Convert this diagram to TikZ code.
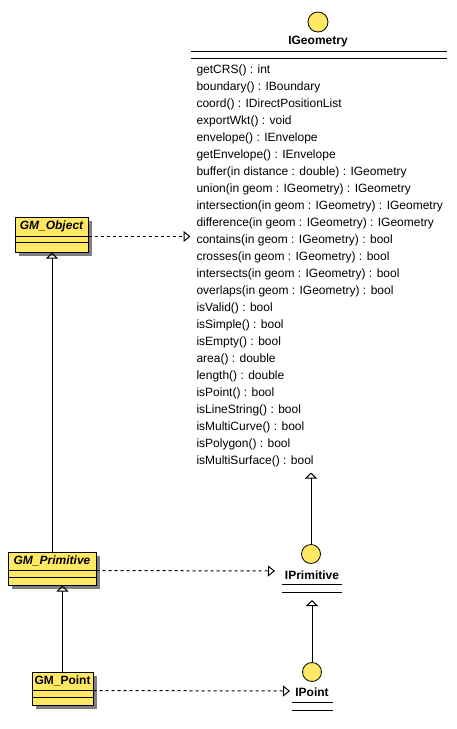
\documentclass[tikz,border=0pt]{standalone}
\usepackage{fontspec}
\setmainfont{Liberation Sans}
\usetikzlibrary{arrows.meta}
\definecolor{umlyellow}{RGB}{255,232,100}
\definecolor{umlshadow}{RGB}{128,128,128}

\begin{document}
\begin{tikzpicture}[x=1pt, y=-1pt, line width=1pt,
  every node/.style={font=\fontsize{12}{14}\selectfont, inner sep=0pt},
  umlclass/.style={draw=black, fill=umlyellow, rectangle},
  umlshadowbox/.style={draw=none, fill=umlshadow, rectangle},
  iface/.style={draw=black, fill=umlyellow, circle, line width=0.8pt},
  classname/.style={font=\fontsize{12}{14}\selectfont\bfseries},
  gen/.style={-{Triangle[open, length=6pt, width=12pt]}},
  real/.style={dash pattern=on 3pt off 3pt, -{Triangle[open, length=7pt, width=11pt]}}]
  \useasboundingbox (0,0) rectangle (457,729);

  \node[iface, minimum size=20pt] (geomcirc) at (318,22) {};
  \node[classname] (geomname) at (318,42) {IGeometry};
  \node[draw=none, minimum width=255pt, minimum height=420pt] (geom) at (318.5,262) {};
  \draw ([yshift=0pt]geom.north west) -- ([yshift=0pt]geom.north east);
  \draw ([yshift=-7pt]geom.north west) -- ([yshift=-7pt]geom.north east);
  \foreach \op [count=\i] in {getCRS() : int, boundary() : IBoundary,
      coord() : IDirectPositionList, exportWkt() : void, envelope() : IEnvelope,
      getEnvelope() : IEnvelope, buffer(in distance : double) : IGeometry,
      union(in geom : IGeometry) : IGeometry, intersection(in geom : IGeometry) : IGeometry,
      difference(in geom : IGeometry) : IGeometry, contains(in geom : IGeometry) : bool,
      crosses(in geom : IGeometry) : bool, intersects(in geom : IGeometry) : bool,
      overlaps(in geom : IGeometry) : bool, isValid() : bool, isSimple() : bool,
      isEmpty() : bool, area() : double, length() : double, isPoint() : bool,
      isLineString() : bool, isMultiCurve() : bool, isPolygon() : bool,
      isMultiSurface() : bool}
    \node[anchor=base west] (geomop-\i) at (196,{56+17*\i}) {\op};

  \node[iface, minimum size=19pt] (iprimcirc) at (311,554) {};
  \node[classname] (iprimname) at (312,575) {IPrimitive};
  \draw (282,584) -- (342,584) (282,592) -- (342,592);
  \coordinate (iprimtip) at (275,571);
  \coordinate (iprimbase) at (312,600);

  \node[iface, minimum size=19pt] (ipointcirc) at (312,672) {};
  \node[classname] (ipointname) at (312,692) {IPoint};
  \draw (292,702) -- (333,702) (292,710) -- (333,710);
  \coordinate (ipointtip) at (290,691);

  \node[umlshadowbox, minimum width=73pt, minimum height=35pt] (objshadow) at (55.5,238.5) {};
  \node[umlclass, minimum width=73pt, minimum height=35pt] (obj) at (51.5,234.5) {};
  \node[classname, font=\fontsize{12}{14}\selectfont\bfseries\itshape] (objname) at ([yshift=-10pt]obj.north) {GM\_Object};
  \draw ([yshift=-20pt]obj.north west) -- ([yshift=-20pt]obj.north east) coordinate (objsep);
  \draw ([yshift=-26pt]obj.north west) -- ([yshift=-26pt]obj.north east);

  \node[umlshadowbox, minimum width=88pt, minimum height=33pt] (primshadow) at (56,572.5) {};
  \node[umlclass, minimum width=88pt, minimum height=33pt] (prim) at (52,568.5) {};
  \node[classname, font=\fontsize{12}{14}\selectfont\bfseries\itshape] (primname) at ([yshift=-9.5pt]prim.north) {GM\_Primitive};
  \draw ([yshift=-19pt]prim.north west) -- ([yshift=-19pt]prim.north east) coordinate (primsep);
  \draw ([yshift=-26pt]prim.north west) -- ([yshift=-26pt]prim.north east);

  \node[umlshadowbox, minimum width=61pt, minimum height=33pt] (ptshadow) at (66.5,692.5) {};
  \node[umlclass, minimum width=61pt, minimum height=33pt] (pt) at (62.5,688.5) {};
  \node[classname] (ptname) at ([yshift=-9.5pt]pt.north) {GM\_Point};
  \draw ([yshift=-19pt]pt.north west) -- ([yshift=-19pt]pt.north east) coordinate (ptsep);
  \draw ([yshift=-26pt]pt.north west) -- ([yshift=-26pt]pt.north east);

  \draw[real] (objsep) -- (objsep -| geom.west);
  \draw[real] (primsep) -- (iprimtip);
  \draw[real] (ptsep) -- (ipointtip);

  \draw[gen] (prim.north) -- (prim.north |- obj.south);
  \draw[gen] (pt.north) -- (pt.north |- prim.south);
  \draw[gen] (iprimcirc.north) -- (iprimcirc.north |- geom.south);
  \draw[gen] (ipointcirc.north) -- (iprimbase);
\end{tikzpicture}
\end{document}
